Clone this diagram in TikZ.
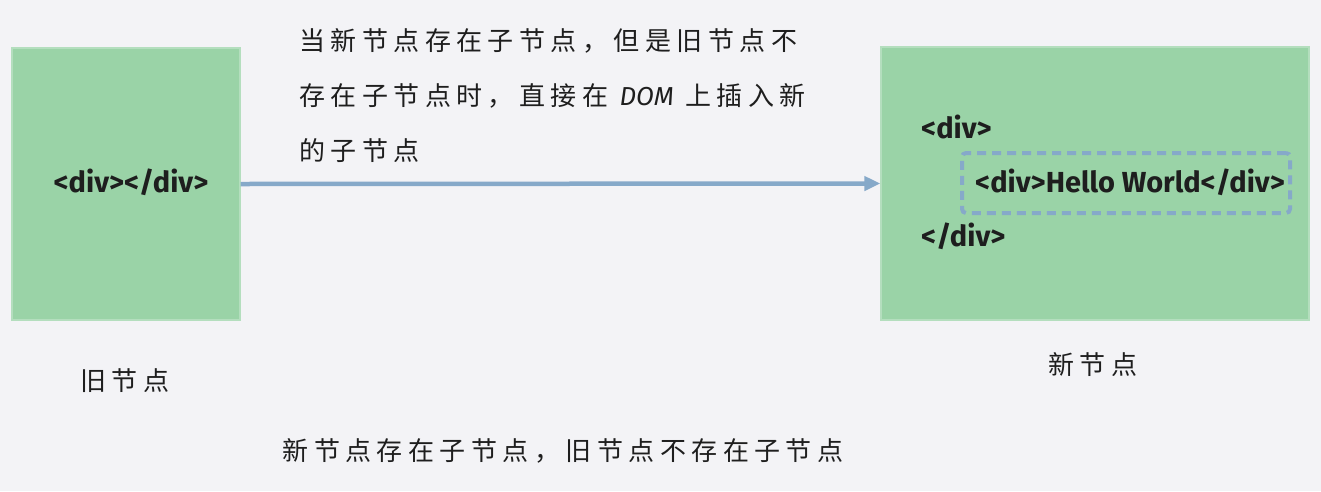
\documentclass[tikz,border=0pt]{standalone}
\usepackage{fontspec}
\usetikzlibrary{arrows.meta}
\newfontfamily\cjk[LetterSpace=21]{Noto Sans CJK SC}
\newfontfamily\codefont{Fira Sans}
\definecolor{bg}{HTML}{F3F3F6}
\definecolor{boxgreen}{HTML}{9AD3A7}
\definecolor{edgegreen}{HTML}{B4DEBE}
\definecolor{arrowblue}{HTML}{86A9C9}
\definecolor{ink}{HTML}{1E1E1E}
\tikzset{
  greenbox/.style={fill=boxgreen, draw=edgegreen, line width=1.2pt, inner sep=0pt},
  codetext/.style={font=\codefont\bfseries\fontsize{29}{34}\selectfont, text=ink, inner sep=0pt},
  cjktext/.style={font=\cjk\fontsize{26}{55}\selectfont, text=ink, inner sep=0pt},
  dashbox/.style={draw=arrowblue, line width=4pt, dash pattern=on 9pt off 6pt, rounded corners=4pt, inner sep=0pt},
  flow/.style={draw=arrowblue, line width=4.5pt, -{Triangle[length=16pt,width=14pt]}}
}
\begin{document}
\begin{tikzpicture}[x=1pt,y=-1pt]
\useasboundingbox[fill=bg] (0,0) rectangle (1321,491);
% boxes
\node[greenbox, minimum width=228pt, minimum height=272pt] (old) at (126,184) {};
\node[greenbox, minimum width=428pt, minimum height=273pt] (new) at (1095,183.5) {};
\node[codetext] (oldcode) at (131,182) {<div></div>};
% inner code
\node[codetext, anchor=west] (open) at (921,127) {<div>};
\node[codetext, anchor=west] (hello) at (975,182) {<div>Hello World</div>};
\node[codetext, anchor=west] (close) at (921,236) {</div>};
\node[dashbox, minimum width=328pt, minimum height=60pt] (dash) at (1126,183) {};
% arrow
\draw[flow] (old.east) -- (new.west);
% texts
\node[cjktext, anchor=base west, align=left] (desc) at (299,160)
  {当新节点存在子节点，但是旧节点不\\存在子节点时，直接在 {\codefont\itshape DOM} 上插入新\\的子节点};
\node[cjktext] (oldlabel) at (125,381) {旧节点};
\node[cjktext] (newlabel) at (1093,365) {新节点};
\node[cjktext] (caption) at (563,451) {新节点存在子节点，旧节点不存在子节点};
\end{tikzpicture}
\end{document}
